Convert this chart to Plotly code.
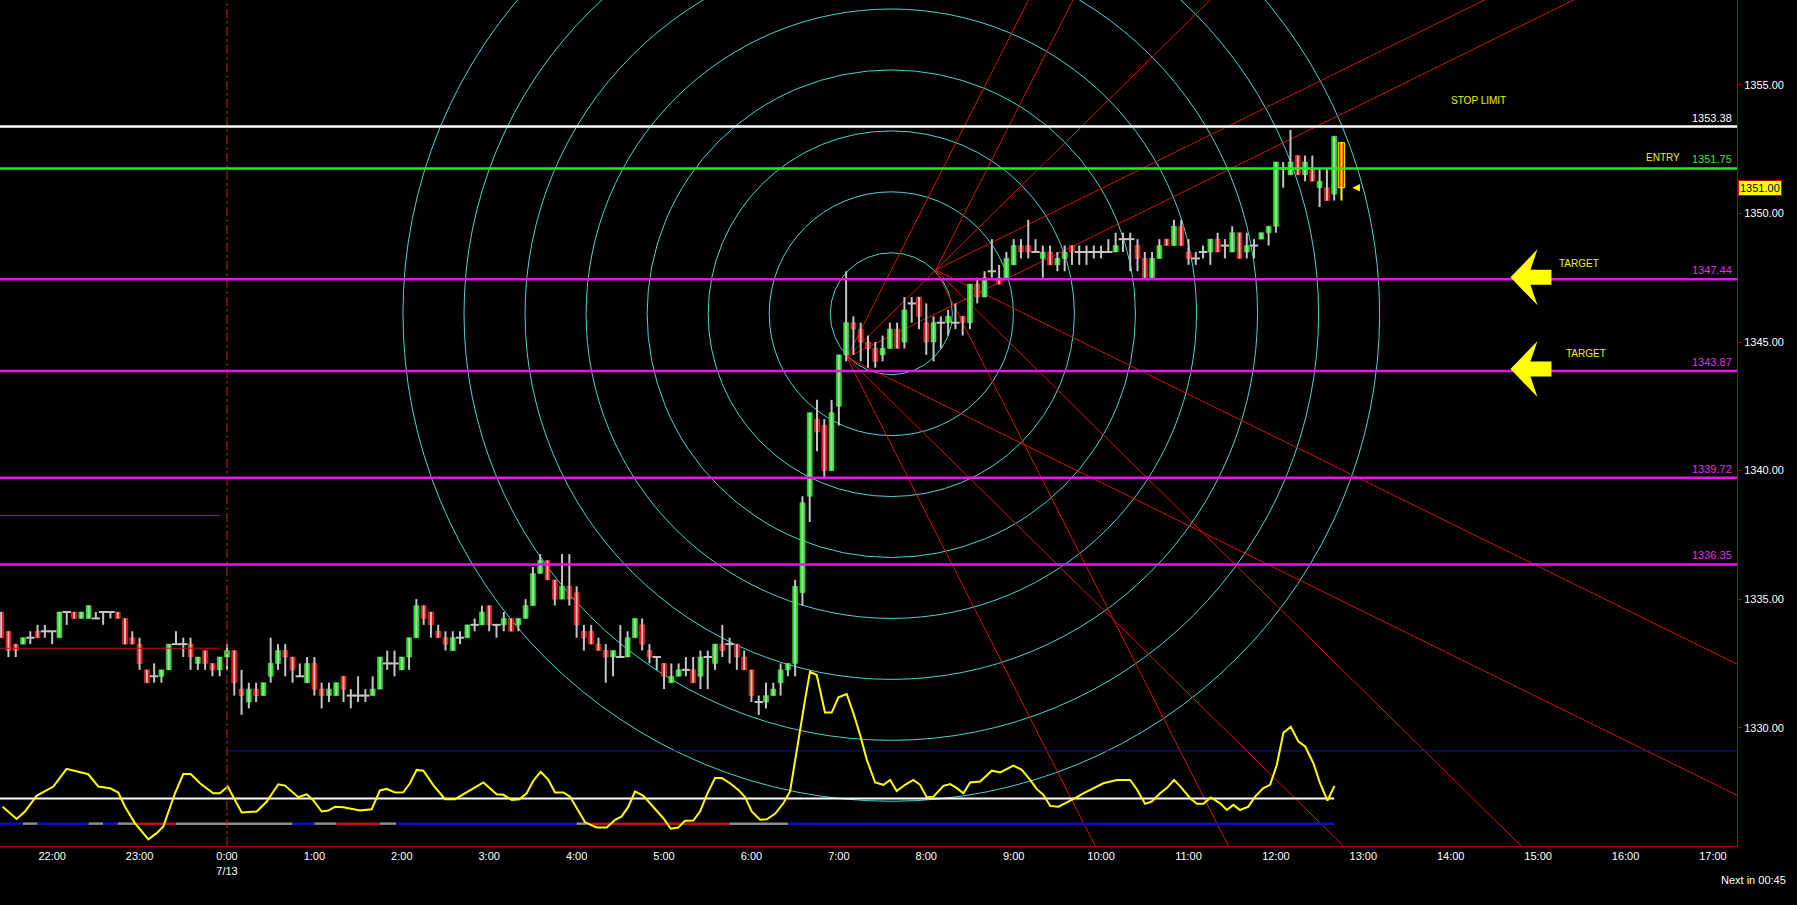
import plotly.graph_objects as go

# 5-minute bars, x in minutes from 0:00 on 7/13 (first bar is 21:25 the evening before)
bar_start = -155
bar_step = 5

opens = [
    1334.5, 1333.75, 1333.25, 1333.25, 1333.5, 1333.75, 1333.75, 1333.75, 1333.5, 1334.5,
    1334.5, 1334.25, 1334.25, 1334.25, 1334.5, 1334.5, 1334.5, 1334.25, 1333.5, 1333.25,
    1332.25, 1332.0, 1332.0, 1332.25, 1333.25, 1333.25, 1333.25, 1332.5, 1333.0, 1332.5,
    1332.25, 1332.75, 1333.0, 1331.5, 1331.0, 1331.5, 1331.25, 1332.0, 1332.5, 1333.0,
    1332.75, 1332.0, 1331.75, 1332.5, 1331.5, 1331.25, 1331.25, 1332.0, 1331.25, 1331.25,
    1331.25, 1331.25, 1331.5, 1332.5, 1332.5, 1332.25, 1332.75, 1333.5, 1334.75, 1334.5,
    1333.75, 1333.5, 1333.0, 1333.5, 1333.5, 1334.0, 1334.0, 1334.75, 1334.0, 1334.0,
    1334.25, 1334.0, 1334.25, 1334.75, 1336.0, 1336.5, 1335.75, 1335.0, 1335.5, 1335.25,
    1333.75, 1333.75, 1333.25, 1333.0, 1332.75, 1332.75, 1332.75, 1333.5, 1334.0, 1333.0,
    1332.75, 1332.5, 1331.75, 1332.0, 1332.25, 1332.25, 1332.0, 1332.75, 1332.5, 1333.25,
    1333.25, 1333.25, 1332.75, 1332.25, 1331.0, 1331.0, 1331.25, 1331.75, 1332.25, 1332.5,
    1335.25, 1339.0, 1342.0, 1341.75, 1340.0, 1342.5, 1344.5, 1345.75, 1345.5, 1345.0,
    1344.75, 1344.5, 1344.75, 1345.5, 1345.0, 1346.5, 1346.75, 1345.75, 1345.0, 1345.75,
    1345.75, 1345.75, 1346.0, 1345.75, 1347.25, 1346.75, 1347.75, 1347.5, 1347.5, 1348.0,
    1348.75, 1348.75, 1348.5, 1348.25, 1348.5, 1348.0, 1348.25, 1348.75, 1348.5, 1348.5,
    1348.5, 1348.5, 1348.5, 1348.5, 1349.0, 1349.0, 1348.75, 1348.25, 1347.5, 1348.25,
    1349.0, 1348.75, 1349.5, 1348.5, 1348.25, 1348.5, 1348.5, 1349.0, 1348.75, 1348.5,
    1349.25, 1348.5, 1348.75, 1349.0, 1349.25, 1349.5, 1351.75, 1351.5, 1352.25, 1351.5,
    1351.75, 1351.0, 1351.0, 1350.75, 1352.75,
]
highs = [
    1334.5, 1333.75, 1333.25, 1333.5, 1333.75, 1334.0, 1334.0, 1333.75, 1334.5, 1334.5,
    1334.5, 1334.5, 1334.75, 1334.5, 1334.5, 1334.5, 1334.5, 1334.25, 1333.75, 1333.5,
    1332.25, 1332.5, 1332.25, 1333.25, 1333.75, 1333.5, 1333.5, 1332.75, 1333.0, 1332.5,
    1332.75, 1333.25, 1333.0, 1332.25, 1331.75, 1331.75, 1331.75, 1333.5, 1333.25, 1333.25,
    1332.75, 1332.5, 1332.75, 1332.75, 1331.75, 1331.75, 1331.75, 1332.0, 1331.5, 1332.0,
    1331.5, 1332.0, 1332.75, 1333.0, 1333.0, 1332.75, 1333.5, 1335.0, 1334.75, 1334.5,
    1334.0, 1333.75, 1333.75, 1333.75, 1334.0, 1334.25, 1334.75, 1334.75, 1334.0, 1334.5,
    1334.25, 1334.25, 1335.0, 1336.25, 1336.75, 1336.5, 1335.75, 1336.75, 1336.75, 1335.5,
    1334.0, 1334.0, 1333.5, 1333.25, 1333.0, 1334.0, 1333.75, 1334.25, 1334.25, 1333.25,
    1332.75, 1332.5, 1332.5, 1332.5, 1332.75, 1332.75, 1333.0, 1333.0, 1333.25, 1334.0,
    1333.5, 1333.25, 1333.0, 1332.25, 1331.25, 1331.75, 1331.75, 1332.5, 1332.5, 1335.75,
    1339.0, 1342.25, 1342.75, 1342.0, 1342.75, 1344.5, 1347.75, 1346.0, 1345.75, 1345.25,
    1345.0, 1345.25, 1345.75, 1345.75, 1346.75, 1346.75, 1346.75, 1346.5, 1346.0, 1346.0,
    1346.25, 1346.5, 1346.0, 1347.25, 1347.5, 1347.75, 1349.0, 1348.0, 1348.5, 1349.0,
    1349.0, 1349.75, 1349.0, 1348.75, 1348.75, 1348.5, 1348.75, 1348.75, 1348.75, 1348.75,
    1348.75, 1348.75, 1349.0, 1349.25, 1349.25, 1349.25, 1349.0, 1348.5, 1348.5, 1349.0,
    1349.0, 1349.75, 1349.75, 1349.0, 1348.5, 1348.75, 1349.0, 1349.25, 1349.0, 1349.5,
    1349.25, 1349.25, 1349.0, 1349.25, 1349.5, 1352.0, 1352.0, 1353.25, 1352.25, 1352.25,
    1352.25, 1351.75, 1351.75, 1353.0, 1352.75,
]
lows = [
    1333.5, 1332.75, 1332.75, 1333.25, 1333.25, 1333.5, 1333.5, 1333.25, 1333.5, 1334.0,
    1334.25, 1334.25, 1334.25, 1334.25, 1334.0, 1334.25, 1334.25, 1333.25, 1333.25, 1332.25,
    1331.75, 1331.75, 1331.75, 1332.25, 1333.25, 1332.75, 1332.25, 1332.25, 1332.25, 1332.0,
    1332.0, 1332.25, 1331.25, 1330.5, 1330.75, 1331.0, 1331.25, 1331.75, 1332.25, 1332.0,
    1331.75, 1332.0, 1331.75, 1331.25, 1330.75, 1331.0, 1331.25, 1331.0, 1330.75, 1331.0,
    1331.0, 1331.25, 1331.5, 1332.25, 1332.0, 1332.25, 1332.25, 1333.5, 1334.0, 1333.5,
    1333.5, 1333.0, 1333.0, 1333.25, 1333.5, 1333.75, 1334.0, 1333.75, 1333.5, 1333.75,
    1333.75, 1333.75, 1334.25, 1334.75, 1336.0, 1335.75, 1334.75, 1335.0, 1334.75, 1333.5,
    1333.0, 1333.25, 1333.0, 1331.75, 1332.0, 1332.75, 1332.75, 1333.5, 1333.0, 1332.5,
    1332.25, 1331.5, 1331.75, 1332.0, 1332.0, 1331.75, 1331.5, 1331.5, 1332.25, 1332.75,
    1332.5, 1332.25, 1332.25, 1331.0, 1330.5, 1330.75, 1331.25, 1331.25, 1332.0, 1332.0,
    1334.75, 1338.0, 1340.75, 1339.75, 1340.0, 1341.75, 1344.25, 1344.5, 1344.25, 1344.0,
    1344.0, 1344.25, 1344.75, 1344.75, 1344.75, 1345.75, 1345.5, 1344.5, 1344.25, 1344.75,
    1345.25, 1345.5, 1345.25, 1345.5, 1346.5, 1346.75, 1347.5, 1347.25, 1347.5, 1348.0,
    1348.25, 1348.25, 1348.5, 1347.5, 1348.0, 1347.75, 1347.75, 1348.0, 1348.0, 1348.0,
    1348.25, 1348.25, 1348.5, 1348.5, 1348.5, 1347.75, 1347.75, 1347.5, 1347.5, 1348.25,
    1348.75, 1348.75, 1348.75, 1348.0, 1348.0, 1348.25, 1348.0, 1348.5, 1348.25, 1348.5,
    1348.25, 1348.25, 1348.25, 1349.0, 1348.75, 1349.25, 1351.0, 1351.5, 1351.5, 1351.25,
    1351.25, 1350.25, 1350.5, 1350.5, 1350.5,
]
closes = [
    1333.5, 1333.0, 1333.0, 1333.5, 1333.5, 1333.5, 1333.75, 1333.75, 1334.5, 1334.5,
    1334.25, 1334.5, 1334.75, 1334.25, 1334.5, 1334.5, 1334.25, 1333.25, 1333.25, 1332.5,
    1331.75, 1332.0, 1332.25, 1333.25, 1333.25, 1333.25, 1332.75, 1332.75, 1332.5, 1332.25,
    1332.75, 1333.0, 1331.75, 1331.25, 1331.5, 1331.25, 1331.75, 1332.5, 1333.0, 1332.75,
    1332.25, 1332.0, 1332.5, 1331.5, 1331.25, 1331.5, 1331.75, 1331.5, 1331.25, 1331.25,
    1331.25, 1331.5, 1332.75, 1332.5, 1332.5, 1332.75, 1333.5, 1334.75, 1334.25, 1334.0,
    1333.5, 1333.25, 1333.5, 1333.5, 1334.0, 1334.0, 1334.5, 1334.0, 1334.0, 1334.25,
    1333.75, 1334.25, 1334.75, 1336.0, 1336.5, 1335.75, 1335.0, 1335.5, 1335.0, 1334.0,
    1333.5, 1333.25, 1333.0, 1332.75, 1333.0, 1332.75, 1333.5, 1334.25, 1333.25, 1332.75,
    1332.75, 1332.0, 1332.0, 1332.25, 1332.25, 1331.75, 1332.75, 1332.75, 1333.25, 1333.0,
    1333.25, 1332.75, 1332.25, 1331.25, 1331.0, 1331.25, 1331.5, 1332.25, 1332.5, 1335.5,
    1338.75, 1342.25, 1341.5, 1340.0, 1342.25, 1344.5, 1345.75, 1345.5, 1345.0, 1344.75,
    1344.25, 1344.75, 1345.5, 1344.75, 1346.25, 1346.5, 1346.0, 1345.0, 1345.75, 1345.75,
    1346.0, 1345.75, 1345.75, 1347.25, 1346.75, 1347.5, 1347.75, 1347.25, 1348.25, 1348.75,
    1348.5, 1348.5, 1348.5, 1348.5, 1348.0, 1348.25, 1348.5, 1348.5, 1348.5, 1348.5,
    1348.5, 1348.5, 1348.5, 1348.75, 1349.0, 1349.0, 1348.25, 1347.5, 1348.25, 1348.75,
    1348.75, 1349.5, 1348.75, 1348.25, 1348.25, 1348.5, 1349.0, 1348.5, 1348.75, 1349.25,
    1348.25, 1348.75, 1348.75, 1349.25, 1349.5, 1352.0, 1351.75, 1352.0, 1351.5, 1352.0,
    1351.25, 1351.25, 1350.5, 1353.0, 1351.0,
]
bar_time = [bar_start + bar_step * i for i in range(len(opens))]

# x axis labels (minutes from 0:00)
tick_minutes = [-120, -60, 0, 60, 120, 180, 240, 300, 360, 420,
                480, 540, 600, 660, 720, 780, 840, 900, 960, 1020]
tick_labels = ["22:00", "23:00", "0:00<br>7/13", "1:00", "2:00", "3:00", "4:00", "5:00",
               "6:00", "7:00", "8:00", "9:00", "10:00", "11:00", "12:00", "13:00",
               "14:00", "15:00", "16:00", "17:00"]
price_ticks = [1330, 1335, 1340, 1345, 1350, 1355]

# trade levels
level_prices = [1353.38, 1351.75, 1347.44, 1343.87, 1339.72, 1336.35]
level_colors = ["#ffffff", "#1eee1e", "#ee10ee", "#ee10ee", "#ee10ee", "#ee10ee"]
level_text_colors = ["#ffffff", "#3ee03e", "#e030e0", "#e030e0", "#e030e0", "#e030e0"]
level_tags = ["STOP LIMIT", "ENTRY", "TARGET", "TARGET", "", ""]
tag_minutes = [859, 986, 928, 933, None, None]
tag_shift = [26, 11, 16, 18, 0, 0]
target_arrow_minute = 881

# older reference lines on the left side
prev_levels = [1333.09, 1338.25]
prev_colors = ["#c01010", "#8a208a"]
prev_end = -5

# oscillator drawn in the bottom of the price pane
osc_t = [
    -154, -144.4, -138.7, -130.7, -119.2, -110.1, -102.1, -95.2, -88.3, -80.3,
    -74.6, -70, -63.2, -54, -48.3, -43.7, -35.7, -30, -24.9, -18.5,
    -9.4, -4.8, 0.5, 5.5, 10.1, 20.4, 27.3, 35.2, 39.8, 49,
    54.7, 59.3, 65, 69.6, 74.2, 79.9, 86.8, 91.3, 99.3, 105,
    109.6, 115.3, 121, 125.6, 130.2, 134.8, 141.6, 149.7, 156.5, 166.8,
    176, 185.1, 189.7, 195.5, 200.7,
    205.7, 210.3, 215.3, 220.6, 225.2, 230.9, 235.5, 240.1, 245.8, 253.8,
    260.7, 266.4, 270.9, 275.5, 280.1, 285.8, 292.7, 299.5, 304.6, 309.8,
    314.4, 320.1, 324.7, 329.3, 335, 339.6, 345.3, 351, 355.6, 360.2,
    365.9, 370.5, 376.2, 381.9, 386.5, 389.9, 393.4, 396.8, 400.2, 404.8,
    410.5, 415.1, 419.7, 425.4, 430, 434.6, 439.2, 444.9, 450.6, 455.2,
    459.7, 465.4, 471.1, 475.7, 480.3, 484.9, 491.8, 496.4, 501, 505.5,
    510.1, 517, 525,
    530.7, 539.8, 545.6, 551.3, 555.9, 560.4, 565, 570.7, 576.4, 582.2,
    587.8, 594.7, 601.6, 610.8, 619.9, 624.5, 630.2, 634.8, 640.5, 645.1,
    650.1, 655.4, 661.1, 665.7, 670.2, 675.3, 681.7, 686.3, 690.8, 695.4,
    701.1, 705.7, 711.4, 716, 720.6, 725.2, 730.2, 735.5, 740.1, 745.7,
    750.3, 755.4, 760.2,
]
osc_v = [
    1326.93, 1326.45, 1326.74, 1327.35, 1327.71, 1328.40, 1328.29, 1328.19, 1327.71, 1327.65,
    1327.48, 1326.93, 1326.29, 1325.66, 1325.90, 1326.16, 1327.45, 1328.20, 1328.20, 1327.84,
    1327.45, 1327.45, 1327.71, 1327.19, 1326.70, 1326.74, 1327.13, 1327.80, 1327.75, 1327.30,
    1327.41, 1327.17, 1326.74, 1326.78, 1326.93, 1326.91, 1326.84, 1326.78, 1326.83, 1327.56,
    1327.62, 1327.48, 1327.49, 1327.84, 1328.36, 1328.33, 1327.77, 1327.22, 1327.22, 1327.58,
    1327.87, 1327.41, 1327.39, 1327.19, 1327.22,
    1327.45, 1327.94, 1328.29, 1327.97, 1327.48, 1327.48, 1327.32, 1326.87, 1326.32, 1326.12,
    1326.12, 1326.42, 1326.55, 1326.93, 1327.52, 1327.35, 1326.93, 1326.48, 1326.07, 1326.12,
    1326.38, 1326.39, 1326.74, 1327.39, 1328.04, 1328.04, 1327.84, 1327.58, 1327.30, 1326.74,
    1326.42, 1326.44, 1326.65, 1327.06, 1327.52, 1328.75, 1329.91, 1331.08, 1332.18, 1332.05,
    1330.59, 1330.59, 1331.18, 1331.31, 1330.56, 1329.72, 1328.75, 1327.87, 1327.78, 1327.97,
    1327.54, 1327.78, 1327.97, 1327.78, 1327.30, 1327.32, 1327.74, 1327.81, 1327.65, 1327.45,
    1327.87, 1327.91, 1328.33,
    1328.26, 1328.53, 1328.36, 1327.97, 1327.61, 1327.39, 1326.96, 1326.93, 1327.09, 1327.26,
    1327.45, 1327.65, 1327.84, 1327.97, 1327.97, 1327.61, 1327.04, 1327.13, 1327.45, 1327.65,
    1327.97, 1327.65, 1327.26, 1327.04, 1327.04, 1327.29, 1327.06, 1326.80, 1327.00, 1326.80,
    1326.93, 1327.32, 1327.65, 1327.78, 1328.55, 1329.81, 1330.04, 1329.46, 1329.27, 1328.62,
    1327.84, 1327.17, 1327.74,
]
osc_upper = 1329.1
osc_mid = 1327.25
osc_lower = 1326.27
osc_end = 760
# colour states along the lower oscillator line
state_edges = [-156, -140, -130, -95, -85, -75, -63, -35, 45, 60, 75, 105, 116,
               240, 247, 345, 385, 760]
state_colors = ["#1010b0", "#8c8c8c", "#1010b0", "#8c8c8c", "#1010b0", "#8c8c8c", "#b01818",
                "#8c8c8c", "#1010b0", "#8c8c8c", "#b01818", "#8c8c8c", "#1010b0", "#8c8c8c",
                "#b01818", "#8c8c8c", "#1010b0"]

# gann fan pivots and circle rings
pivot_low = (425.5, 1344.4)
pivot_high = (486.5, 1347.8)
fan_ratios = [2, 1, 0.5]
ring_count = 8
ring_dt = 41.9
ring_dp = 2.37

x_range = [-155.8, 1036.5]
y_range = [1325.40, 1358.30]

fig = go.Figure()

# oscillator guide lines and line
fig.add_trace(go.Scatter(x=[0, x_range[1] + 10], y=[osc_upper, osc_upper], mode="lines",
                         line=dict(color="#1414a0", width=1)))
fig.add_trace(go.Scatter(x=[x_range[0] - 5, osc_end], y=[osc_mid, osc_mid], mode="lines",
                         line=dict(color="#ffffff", width=2)))
for i, col in enumerate(state_colors):
    fig.add_trace(go.Scatter(x=[state_edges[i], state_edges[i + 1]], y=[osc_lower, osc_lower],
                             mode="lines", line=dict(color=col, width=2.5)))
fig.add_trace(go.Scatter(x=osc_t, y=osc_v, mode="lines",
                         line=dict(color="#ffff00", width=2)))

# candle wicks
wick_x, wick_y = [], []
for i in range(len(opens) - 1):
    wick_x += [bar_time[i], bar_time[i], None]
    wick_y += [lows[i], highs[i], None]
fig.add_trace(go.Scatter(x=wick_x, y=wick_y, mode="lines",
                         line=dict(color="#c4c4c4", width=2)))
fig.add_trace(go.Scatter(x=[bar_time[-1]] * 2, y=[lows[-1], highs[-1]], mode="lines",
                         line=dict(color="#ffff00", width=2)))

# candle bodies
up = [i for i in range(len(opens)) if closes[i] > opens[i]]
down = [i for i in range(len(opens) - 1) if closes[i] < opens[i]]
flat = [i for i in range(len(opens)) if closes[i] == opens[i]]
fig.add_trace(go.Bar(x=[bar_time[i] for i in up], base=[opens[i] for i in up],
                     y=[closes[i] - opens[i] for i in up], width=3.4, opacity=1,
                     marker=dict(color="#00f000", line=dict(color="#50ff50", width=0.5))))
fig.add_trace(go.Bar(x=[bar_time[i] for i in down], base=[closes[i] for i in down],
                     y=[opens[i] - closes[i] for i in down], width=3.4, opacity=1,
                     marker=dict(color="#f00000", line=dict(color="#ff5050", width=0.5))))
# current bar: wider red body with a yellow outline
fig.add_trace(go.Bar(x=[bar_time[-1]], base=[closes[-1]], y=[opens[-1] - closes[-1]], width=4.4,
                     opacity=1,
                     marker=dict(color="#f00000", line=dict(color="#ffff00", width=1))))
fig.add_trace(go.Scatter(x=[bar_time[i] for i in flat], y=[opens[i] for i in flat], mode="markers",
                         marker=dict(symbol="line-ew", size=6,
                                     line=dict(color="#c4c4c4", width=2))))

# circles around the midpoint of the two pivots
ct = (pivot_low[0] + pivot_high[0]) / 2
cp = (pivot_low[1] + pivot_high[1]) / 2
for k in range(1, ring_count + 1):
    fig.add_shape(type="circle", xref="x", yref="y", layer="below",
                  x0=ct - k * ring_dt, x1=ct + k * ring_dt,
                  y0=cp - k * ring_dp, y1=cp + k * ring_dp,
                  line=dict(color="#4cd2d2", width=1))

# fan lines from both pivots
unit = (pivot_high[1] - pivot_low[1]) / (pivot_high[0] - pivot_low[0])
x_end = x_range[1] + 20
fans = [(pivot_low, 1, fan_ratios), (pivot_low, -1, fan_ratios),
        (pivot_high, 1, [2, 0.5]), (pivot_high, -1, fan_ratios)]
for (t0, p0), sign, ratios in fans:
    for r in ratios:
        fig.add_shape(type="line", xref="x", yref="y", layer="below",
                      x0=t0, y0=p0, x1=x_end, y1=p0 + sign * r * unit * (x_end - t0),
                      line=dict(color="#d01414", width=1))

# left-side reference lines and the session divider
for lvl, col in zip(prev_levels, prev_colors):
    fig.add_shape(type="line", xref="x", yref="y", x0=x_range[0], x1=prev_end, y0=lvl, y1=lvl,
                  line=dict(color=col, width=1))
fig.add_shape(type="line", xref="x", yref="paper", x0=0, x1=0, y0=0, y1=1,
              line=dict(color="#c42020", width=1, dash="dashdot"))

# trade levels with labels
for lvl, col, tcol, tag, tm, ts in zip(level_prices, level_colors, level_text_colors,
                                        level_tags, tag_minutes, tag_shift):
    fig.add_shape(type="line", xref="paper", yref="y", x0=0, x1=1, y0=lvl, y1=lvl,
                  line=dict(color=col, width=2.5))
    fig.add_annotation(x=1, xref="paper", y=lvl, yref="y", text=f"{lvl:.2f}",
                       showarrow=False, xanchor="right", xshift=-3, yshift=9,
                       font=dict(color=tcol, size=11))
    if tag:
        fig.add_annotation(x=tm, y=lvl, text=tag, showarrow=False, yshift=ts,
                           font=dict(color="#f0f000", size=10))
    if tag == "TARGET":
        fig.add_shape(type="path", xref="x", yref="y", xsizemode="pixel", ysizemode="pixel",
                      xanchor=target_arrow_minute, yanchor=lvl,
                      path="M 0 2 L 27 30 L 20 9.5 L 41 9.5 L 41 -5.5 L 20 -5.5 L 27 -26 Z",
                      fillcolor="#ffff00", line=dict(width=0))

# last price marker
fig.add_annotation(x=bar_time[-1] + 7.5, y=closes[-1], text="", showarrow=True, ax=9, ay=0,
                   arrowhead=2, arrowsize=1, arrowwidth=1.5, arrowcolor="#ffff00")
fig.add_annotation(x=1, xref="paper", y=closes[-1], yref="y", text=f"{closes[-1]:.2f}",
                   showarrow=False, xanchor="left", xshift=1, bgcolor="#ffff00",
                   bordercolor="#d00000", borderwidth=1, borderpad=1,
                   font=dict(color="#000000", size=11))
fig.add_annotation(x=1, xref="paper", y=0, yref="paper", text="Next in 00:45",
                   showarrow=False, xanchor="right", xshift=51, yshift=-42,
                   font=dict(color="#ffffff", size=11))

fig.update_layout(
    width=1797, height=905,
    margin=dict(l=0, r=60, t=0, b=59),
    paper_bgcolor="#000000", plot_bgcolor="#000000",
    font=dict(family="Liberation Sans, Arial, sans-serif", size=11, color="#ffffff"),
    showlegend=False, hovermode=False, barmode="overlay",
    xaxis=dict(range=x_range, tickvals=tick_minutes, ticktext=tick_labels,
               showgrid=False, zeroline=False, showline=True, linecolor="#a00000",
               linewidth=1, ticks="", tickfont=dict(color="#ffffff", size=11)),
    yaxis=dict(range=y_range, side="right", tickvals=price_ticks, tickformat=".2f",
               showgrid=False, zeroline=False, showline=True, linecolor="#a00000",
               linewidth=1, ticks="outside", ticklen=4, tickcolor="#a00000",
               tickfont=dict(color="#ffffff", size=11)),
)

# no page margin and no toolbar around the chart
fig.write_html("out.html", config={"displayModeBar": False},
               post_script="document.body.style.margin='0';"
                           "document.body.style.background='#000';")
